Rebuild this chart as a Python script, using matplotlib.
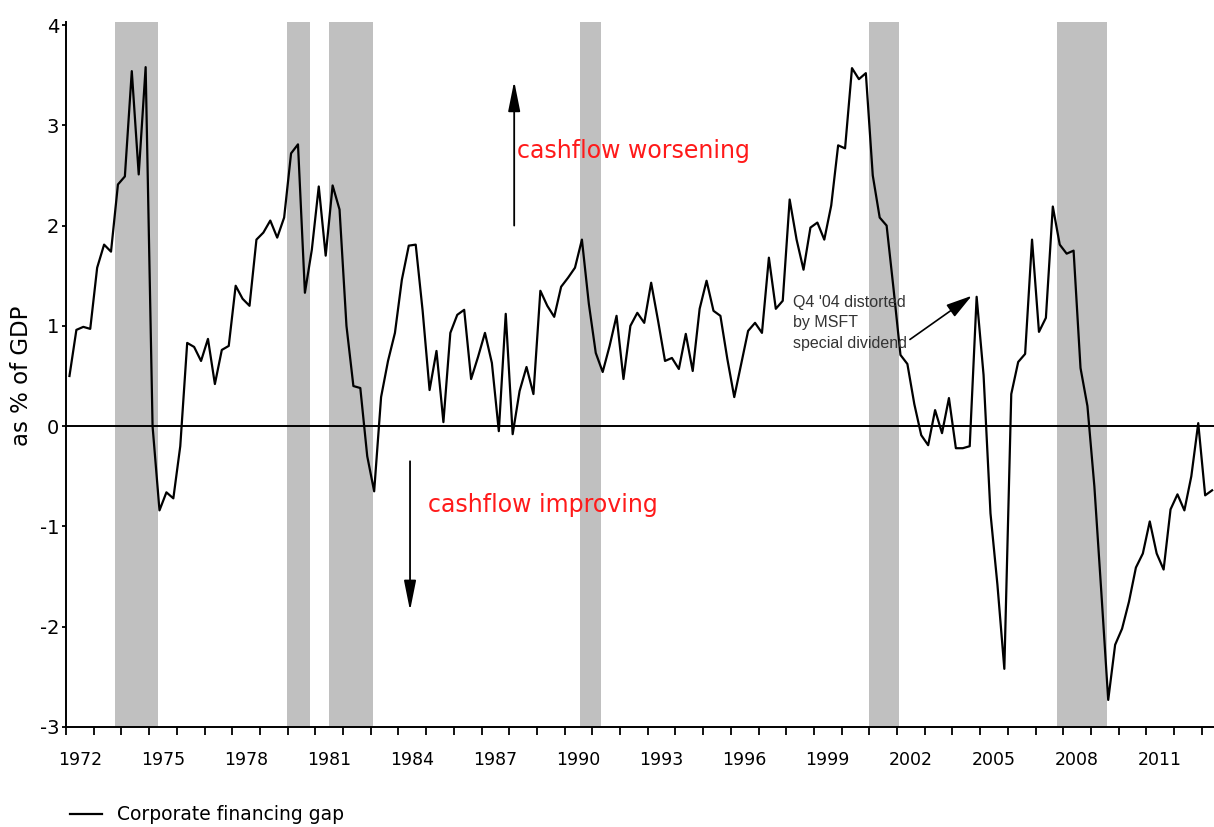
import numpy as np
import matplotlib
matplotlib.use("Agg")
import matplotlib.pyplot as plt

# corporate financing gap, % of GDP, quarterly from 1972 Q1
gap = [
    0.50, 0.96, 0.99, 0.97,    # 1972
    1.58, 1.81, 1.74, 2.41,    # 1973
    2.49, 3.54, 2.51, 3.58,    # 1974
    0.00, -0.84, -0.66, -0.72, # 1975
    -0.20, 0.83, 0.79, 0.65,   # 1976
    0.87, 0.42, 0.76, 0.80,    # 1977
    1.40, 1.27, 1.20, 1.86,    # 1978
    1.93, 2.05, 1.88, 2.08,    # 1979
    2.72, 2.81, 1.33, 1.76,    # 1980
    2.39, 1.70, 2.40, 2.16,    # 1981
    1.00, 0.40, 0.38, -0.30,   # 1982
    -0.65, 0.29, 0.65, 0.93,   # 1983
    1.46, 1.80, 1.81, 1.15,    # 1984
    0.36, 0.75, 0.04, 0.93,    # 1985
    1.11, 1.16, 0.47, 0.69,    # 1986
    0.93, 0.63, -0.05, 1.12,   # 1987
    -0.08, 0.35, 0.59, 0.32,   # 1988
    1.35, 1.20, 1.09, 1.39,    # 1989
    1.48, 1.58, 1.86, 1.22,    # 1990
    0.73, 0.54, 0.80, 1.10,    # 1991
    0.47, 1.00, 1.13, 1.03,    # 1992
    1.43, 1.05, 0.65, 0.68,    # 1993
    0.57, 0.92, 0.55, 1.17,    # 1994
    1.45, 1.15, 1.10, 0.67,    # 1995
    0.29, 0.62, 0.95, 1.03,    # 1996
    0.93, 1.68, 1.17, 1.25,    # 1997
    2.26, 1.86, 1.56, 1.98,    # 1998
    2.03, 1.86, 2.20, 2.80,    # 1999
    2.77, 3.57, 3.46, 3.52,    # 2000
    2.50, 2.08, 2.00, 1.37,    # 2001
    0.71, 0.62, 0.22, -0.09,   # 2002
    -0.19, 0.16, -0.07, 0.28,  # 2003
    -0.22, -0.22, -0.20, 1.29, # 2004
    0.51, -0.87, -1.58, -2.42, # 2005
    0.32, 0.64, 0.72, 1.86,    # 2006
    0.94, 1.08, 2.19, 1.81,    # 2007
    1.72, 1.75, 0.58, 0.20,    # 2008
    -0.60, -1.65, -2.73, -2.18, # 2009
    -2.02, -1.75, -1.41, -1.27, # 2010
    -0.95, -1.27, -1.43, -0.83, # 2011
    -0.68, -0.84, -0.50, 0.03,  # 2012
    -0.69, -0.64,               # 2013
]
# quarter mid-points
dates = 1972.125 + 0.25 * np.arange(len(gap))

# recessions (shaded)
rec_start = [1973.77, 1979.98, 1981.49, 1990.56, 2000.99, 2007.78]
rec_end = [1975.32, 1980.81, 1983.08, 1991.31, 2002.07, 2009.58]

tick_years = list(range(1972, 2014))
label_years = list(range(1972, 2012, 3))
y_ticks = list(range(-3, 5))

fig = plt.figure(figsize=(12.14, 8.27), dpi=100)
ax = fig.add_axes([66 / 1214, 1 - 727 / 827, 1 - 66 / 1214, (727 - 22) / 827])

for s, e in zip(rec_start, rec_end):
    ax.axvspan(s, e, color="#c0c0c0", lw=0, zorder=0)

ax.axhline(0, color="black", lw=1.4, zorder=2)
ax.plot(dates, gap, color="black", lw=1.6, zorder=3, label="Corporate financing gap")

ax.set_xlim(1972, 1972 + (1214 - 66) / 27.7)
ax.set_ylim(-3, 4.03)

for side in ["top", "right"]:
    ax.spines[side].set_visible(False)
for side in ["left", "bottom"]:
    ax.spines[side].set_linewidth(1.4)

# tick marks at year boundaries, labels centred in the year
ax.set_xticks(tick_years)
ax.set_xticklabels([])
ax.tick_params(axis="x", which="major", direction="out", length=6, width=1.3)
ax.set_xticks([y + 0.5 for y in label_years], minor=True)
ax.set_xticklabels([str(y) for y in label_years], minor=True)
ax.tick_params(axis="x", which="minor", length=0, pad=17, labelsize=12.5)

ax.set_yticks(y_ticks)
ax.set_yticklabels([str(v) for v in y_ticks])
ax.tick_params(axis="y", direction="out", length=3, width=1.3, pad=2, labelsize=14)

fig.text(22 / 1214, 1 - 376 / 827, "as % of GDP", rotation=90,
         ha="center", va="center", fontsize=16.5)

# direction arrows and labels
up = dict(arrowstyle="-|>,head_length=0.8,head_width=0.16", color="black",
          lw=1.3, mutation_scale=23, shrinkA=0, shrinkB=0)
ax.annotate("", xy=(1988.18, 3.44), xytext=(1988.18, 2.0), arrowprops=up)
ax.annotate("", xy=(1984.42, -1.84), xytext=(1984.42, -0.35), arrowprops=up)
ax.text(1988.28, 2.74, "cashflow worsening", color="#ff1a1a", fontsize=17,
        va="center", ha="left")
ax.text(1985.07, -0.79, "cashflow improving", color="#ff1a1a", fontsize=17,
        va="center", ha="left")

# MSFT note
ax.annotate("Q4 '04 distorted\nby MSFT\nspecial dividend",
            xy=(2004.70, 1.30), xytext=(1998.25, 1.31),
            fontsize=11.5, family="Liberation Sans", color="#333333",
            va="top", ha="left", linespacing=1.45,
            arrowprops=dict(arrowstyle="-|>,head_length=1.0,head_width=0.28",
                            color="black", lw=1.2, mutation_scale=16,
                            shrinkA=0, shrinkB=0,
                            relpos=(0.97, 0.12)))

ax.legend(loc="center left", bbox_to_anchor=(70 / 1214, 1 - 815 / 827),
          bbox_transform=fig.transFigure, frameon=False, fontsize=13.5,
          handlelength=1.7, handletextpad=0.8, borderpad=0, borderaxespad=0)

fig.savefig("out.png", dpi=100)
